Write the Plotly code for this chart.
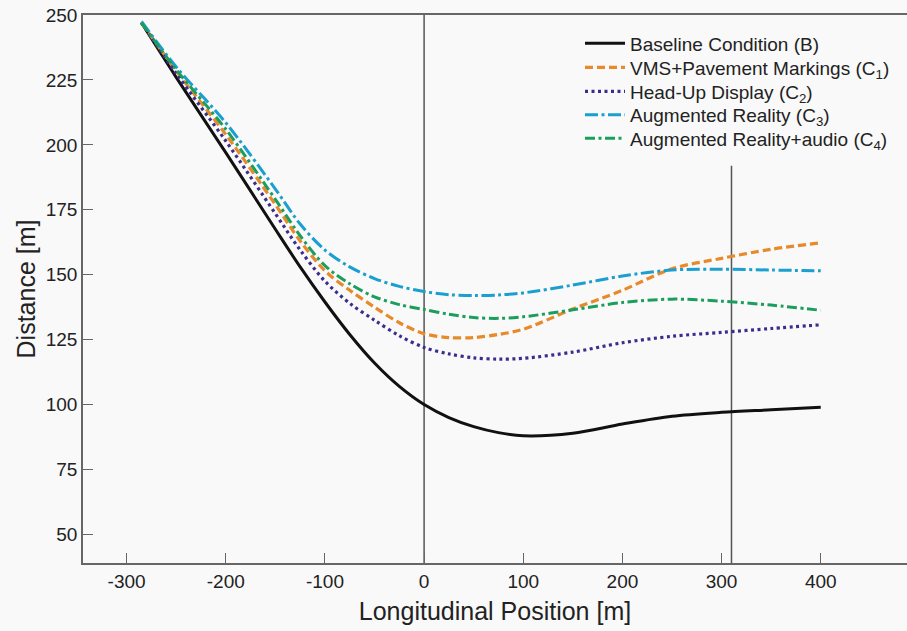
import plotly.graph_objects as go

# ---------------- data ----------------
position = [-285, -250, -200, -150, -125, -100, -75, -50, -25, 0, 25, 50, 75, 100,
            150, 200, 250, 300, 350, 400]

baseline = [247, 226, 197, 167.5, 153, 139.5, 127, 116, 107, 100, 95, 91.5, 89.2, 88,
            89, 92.5, 95.5, 97, 98, 99]
vms_pavement = [247, 228.5, 204, 177, 163, 151.5, 144, 137.5, 131.5, 127.3, 125.8, 125.8, 127, 129,
                136.8, 144, 152.3, 156.3, 159.8, 162.3]
head_up = [247, 227.5, 201.5, 173.5, 159.5, 147.5, 139, 132.5, 126.5, 122, 119.5, 118, 117.5, 117.8,
           120.2, 123.8, 126.3, 127.8, 129.3, 130.7]
aug_reality = [247.5, 230, 208.5, 183, 169.5, 159.5, 153, 148.5, 145.5, 143.5, 142.3, 142, 142.2, 143,
               146, 149.5, 151.8, 152.1, 151.8, 151.5]
aug_reality_audio = [247, 229, 206, 179, 165, 153.5, 146.5, 141.5, 138.5, 136.6, 134.8, 133.5, 133.2, 133.8,
                     136.5, 139.3, 140.6, 139.8, 138.3, 136.3]

series_names = [
    "Baseline Condition (B)",
    "VMS+Pavement Markings (C<sub>1</sub>)",
    "Head-Up Display (C<sub>2</sub>)",
    "Augmented Reality (C<sub>3</sub>)",
    "Augmented Reality+audio (C<sub>4</sub>)",
]
series_values = [baseline, vms_pavement, head_up, aug_reality, aug_reality_audio]

x_ticks = [-300, -200, -100, 0, 100, 200, 300, 400]
x_tick_labels = ["-300", "-200", "-100", "0", "100", "200", "300", "400"]
y_ticks = [50, 75, 100, 125, 150, 175, 200, 225, 250]
y_tick_labels = ["50", "75", "100", "125", "150", "175", "200", "225", "250"]

# reference (vertical) lines: x position and upper end
ref_line_x = [0, 310]
ref_line_top = [250, 192]

# ---------------- styles ----------------
W, H = 907, 631
M_L, M_R, M_T, M_B = 83, 0, 15, 68
plot_h = H - M_T - M_B

colors = ["#111111", "#E8892A", "#3A2E8C", "#1A9FD0", "#1A9E5E"]
dashes = ["solid", "8px,4px", "3px,3.5px", "13px,3.5px,3px,3.5px", "10px,3.5px,3px,3.5px"]
widths = [3, 3.2, 3.2, 3, 3]
legend_row_px = [43.5, 67.5, 91.5, 115, 138.5]   # vertical centre of each legend row (px from top)
legend_left_px = 580

font_family = "Liberation Sans, Arial, sans-serif"

fig = go.Figure()
legend_layouts = {}
for i, (name, vals, c, d, w) in enumerate(zip(series_names, series_values, colors, dashes, widths)):
    key = "legend" if i == 0 else f"legend{i + 1}"
    fig.add_trace(go.Scatter(
        x=position, y=vals, mode="lines", name=name, legend=key,
        line=dict(color=c, dash=d, width=w, shape="spline", smoothing=0.9),
    ))
    legend_layouts[key] = dict(
        x=(legend_left_px - M_L) / (W - M_L - M_R),
        y=(H - M_B - legend_row_px[i]) / plot_h,
        xanchor="left", yanchor="middle",
        bgcolor="rgba(0,0,0,0)", font=dict(size=19, color="#222222", family=font_family),
        itemwidth=40,
    )

y_min, y_max = 39, 250
for xv, top in zip(ref_line_x, ref_line_top):
    fig.add_shape(type="line", xref="x", yref="y", x0=xv, x1=xv, y0=y_min, y1=top,
                  line=dict(color="#555555", width=1.5), layer="below")

fig.update_layout(
    width=W, height=H,
    margin=dict(l=M_L, r=M_R, t=M_T, b=M_B),
    paper_bgcolor="#f9f9f9", plot_bgcolor="#f9f9f9",
    font=dict(family=font_family, color="#222222", size=19),
    showlegend=True,
    xaxis=dict(
        range=[-344, 487], tickvals=x_ticks, ticktext=x_tick_labels,
        ticks="inside", ticklen=10, tickcolor="#666666", tickwidth=1.2,
        showline=True, linecolor="#666666", linewidth=1.5, mirror=True,
        showgrid=False, zeroline=False, automargin=False,
        title=dict(text="Longitudinal Position [m]", font=dict(size=25), standoff=12),
        tickfont=dict(size=19),
    ),
    yaxis=dict(
        range=[y_min, y_max], tickvals=y_ticks, ticktext=y_tick_labels,
        ticks="inside", ticklen=10, tickcolor="#666666", tickwidth=1.2,
        showline=True, linecolor="#666666", linewidth=1.5, mirror=False,
        showgrid=False, zeroline=False, automargin=False,
        title=dict(text="Distance [m]", font=dict(size=25), standoff=3),
        tickfont=dict(size=19),
    ),
    **legend_layouts,
)

fig.write_html(
    "out.html",
    config={"displayModeBar": False},
    post_script="document.body.style.margin='0';document.body.style.background='#f9f9f9';",
)
